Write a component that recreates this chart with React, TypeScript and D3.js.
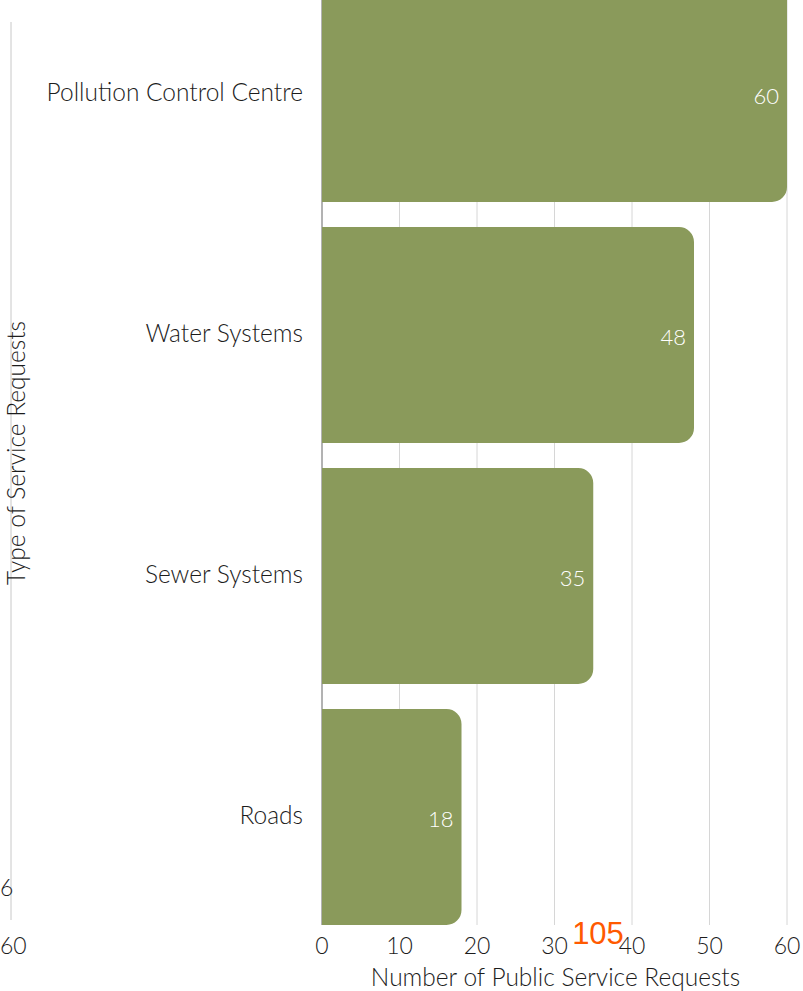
import React, { useEffect, useRef } from "react";
import * as d3 from "d3";

const categories = ["Pollution Control Centre", "Water Systems", "Sewer Systems", "Roads"];
const requestCounts = [60, 48, 35, 18];
const xTicks = [0, 10, 20, 30, 40, 50, 60];
const totalLabel = "105";

const W = 803;
const H = 991;

export default function App() {
  const ref = useRef<SVGSVGElement | null>(null);

  useEffect(() => {
    const svg = d3.select(ref.current);
    svg.selectAll("*").remove();

    const font = "Lato, 'Open Sans', sans-serif";
    const ink = "#1c1c1c";
    const left = 322;
    const right = 787;
    const top = -14;
    const bottom = 925;

    const x = d3.scaleLinear().domain([0, 60]).range([left, right]);
    const y = d3
      .scaleBand<string>()
      .domain(categories)
      .range([top, bottom])
      .paddingInner(0.104)
      .paddingOuter(0);

    // gridlines
    svg
      .append("g")
      .selectAll("line")
      .data(xTicks.filter((t) => t > 0))
      .join("line")
      .attr("x1", (d) => x(d))
      .attr("x2", (d) => x(d))
      .attr("y1", 0)
      .attr("y2", bottom)
      .attr("stroke", "#d6d6d6")
      .attr("stroke-width", 1);

    // zero line
    svg
      .append("line")
      .attr("x1", x(0))
      .attr("x2", x(0))
      .attr("y1", 0)
      .attr("y2", bottom)
      .attr("stroke", "#666")
      .attr("stroke-width", 1);

    // bars with rounded right end
    const r = 15;
    const barPath = (v: number, cat: string) => {
      const x0 = x(0);
      const x1 = x(v);
      const y0 = y(cat)!;
      const h = y.bandwidth();
      const p = d3.path();
      p.moveTo(x0, y0);
      p.lineTo(x1 - r, y0);
      p.arcTo(x1, y0, x1, y0 + r, r);
      p.lineTo(x1, y0 + h - r);
      p.arcTo(x1, y0 + h, x1 - r, y0 + h, r);
      p.lineTo(x0, y0 + h);
      p.closePath();
      return p.toString();
    };

    const bars = svg.append("g");
    categories.forEach((cat, i) => {
      bars.append("path").attr("d", barPath(requestCounts[i], cat)).attr("fill", "#8a9a5b");
      bars
        .append("text")
        .attr("x", x(requestCounts[i]) - 8)
        .attr("y", y(cat)! + y.bandwidth() / 2 + 10)
        .attr("text-anchor", "end")
        .attr("font-family", font)
        .attr("font-weight", 300)
        .attr("font-size", 22)
        .attr("fill", "#fff")
        .text(String(requestCounts[i]));
      svg
        .append("text")
        .attr("x", 303)
        .attr("y", y(cat)! + y.bandwidth() / 2 + 7)
        .attr("text-anchor", "end")
        .attr("font-family", font)
        .attr("font-weight", 300)
        .attr("font-size", 24.5)
        .attr("fill", ink)
        .text(cat);
    });

    // x tick labels
    svg
      .append("g")
      .selectAll("text")
      .data(xTicks)
      .join("text")
      .attr("x", (d) => x(d))
      .attr("y", 954)
      .attr("text-anchor", "middle")
      .attr("font-family", font)
      .attr("font-weight", 300)
      .attr("font-size", 23)
      .attr("fill", ink)
      .text((d) => String(d));

    // x axis title
    svg
      .append("text")
      .attr("x", (left + right) / 2 + 1)
      .attr("y", 986)
      .attr("text-anchor", "middle")
      .attr("font-family", font)
      .attr("font-weight", 300)
      .attr("font-size", 24.5)
      .attr("fill", ink)
      .text("Number of Public Service Requests");

    // leftover axis at far left
    svg
      .append("line")
      .attr("x1", 11)
      .attr("x2", 11)
      .attr("y1", 22)
      .attr("y2", 920)
      .attr("stroke", "#c8c8c8")
      .attr("stroke-width", 1);
    svg
      .append("text")
      .attr("x", 0)
      .attr("y", 896)
      .attr("font-family", font)
      .attr("font-weight", 300)
      .attr("font-size", 23)
      .attr("fill", ink)
      .text("6");
    svg
      .append("text")
      .attr("x", 0)
      .attr("y", 954)
      .attr("font-family", font)
      .attr("font-weight", 300)
      .attr("font-size", 23)
      .attr("fill", ink)
      .text("60");

    // y axis title
    svg
      .append("text")
      .attr("transform", "translate(25,453) rotate(-90)")
      .attr("text-anchor", "middle")
      .attr("font-family", font)
      .attr("font-weight", 300)
      .attr("font-size", 24.5)
      .attr("fill", ink)
      .text("Type of Service Requests");

    // total annotation
    svg
      .append("text")
      .attr("x", 598)
      .attr("y", 944)
      .attr("text-anchor", "middle")
      .attr("font-family", "'Liberation Sans', Arial, sans-serif")
      .attr("font-size", 31)
      .attr("fill", "#ff5a00")
      .text(totalLabel);
  }, []);

  return (
    <svg
      ref={ref}
      width={W}
      height={H}
      style={{ position: "absolute", left: 0, top: 0, background: "#fff" }}
    />
  );
}
